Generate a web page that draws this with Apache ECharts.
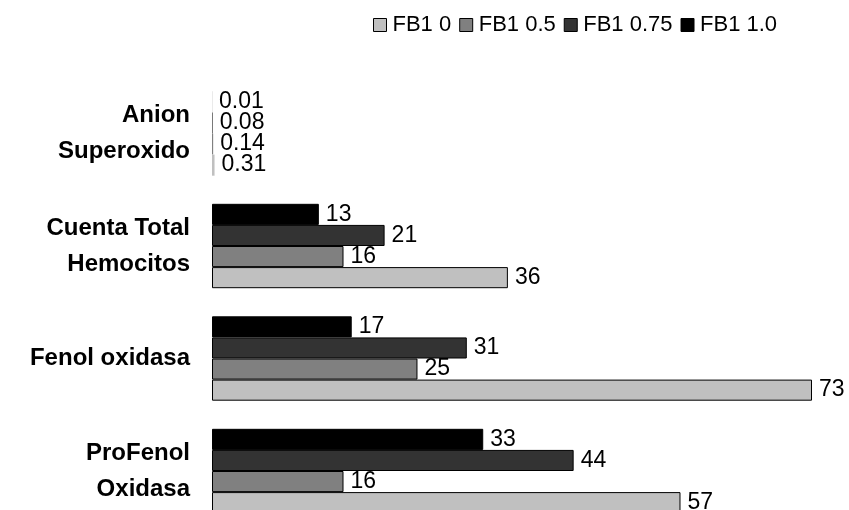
<!DOCTYPE html>
<html>
<head>
<meta charset="utf-8">
<script src="https://cdn.jsdelivr.net/npm/echarts@6/dist/echarts.min.js"></script>
<style>
  html, body { margin: 0; padding: 0; background: #ffffff; }
  #chart { width: 849px; height: 510px; }
</style>
</head>
<body>
<div id="chart"></div>
<script>
// Immune response indicators by FB1 dose
const categories = ['Anion\nSuperoxido', 'Cuenta Total\nHemocitos', 'Fenol oxidasa', 'ProFenol\nOxidasa'];
const seriesNames = ['FB1 0', 'FB1 0.5', 'FB1 0.75', 'FB1 1.0'];
const fb1_0 = [0.31, 36, 73, 57];
const fb1_05 = [0.14, 16, 25, 16];
const fb1_075 = [0.08, 21, 31, 44];
const fb1_10 = [0.01, 13, 17, 33];

const values = [fb1_0, fb1_05, fb1_075, fb1_10];
const colors = ['#c0c0c0', '#808080', '#333333', '#000000'];
const font = 'Liberation Sans, Arial, sans-serif';

const chart = echarts.init(document.getElementById('chart'), null, { renderer: 'canvas' });

// Bars thinner than a pixel are drawn without an outline
const toItems = (arr) => arr.map(v => (v < 1 ? { value: v, itemStyle: { borderWidth: 0 } } : v));

// Highest dose sits on top of each group, so series are added in reverse
const series = seriesNames.map((name, i) => ({
  name: name,
  type: 'bar',
  data: toItems(values[i]),
  barGap: '0%',
  barCategoryGap: '25%',
  clip: false,
  itemStyle: { color: colors[i], borderColor: '#000000', borderWidth: 1 },
  label: {
    show: true,
    position: 'right',
    distance: 7,
    color: '#000000',
    fontFamily: font,
    fontSize: 23
  },
  animation: false
})).reverse();

chart.setOption({
  backgroundColor: '#ffffff',
  animation: false,
  legend: {
    data: seriesNames,
    left: 368,
    top: 9,
    itemWidth: 13,
    itemHeight: 13,
    itemGap: 8,
    icon: 'rect',
    itemStyle: { borderColor: '#000000', borderWidth: 1 },
    textStyle: { fontFamily: font, fontSize: 22, color: '#000000', padding: [0, 0, 0, 1] }
  },
  grid: { left: 212, right: 37, top: 133.5, bottom: 39, containLabel: false },
  xAxis: {
    type: 'value',
    min: 0,
    max: 73,
    show: false
  },
  yAxis: {
    type: 'category',
    inverse: true,
    boundaryGap: false,
    data: categories,
    axisLine: { show: false },
    axisTick: { show: false },
    splitLine: { show: false },
    axisLabel: {
      margin: 22,
      fontFamily: font,
      fontWeight: 'bold',
      fontSize: 24,
      lineHeight: 36,
      color: '#000000',
      align: 'right'
    }
  },
  series: series
});
</script>
</body>
</html>
